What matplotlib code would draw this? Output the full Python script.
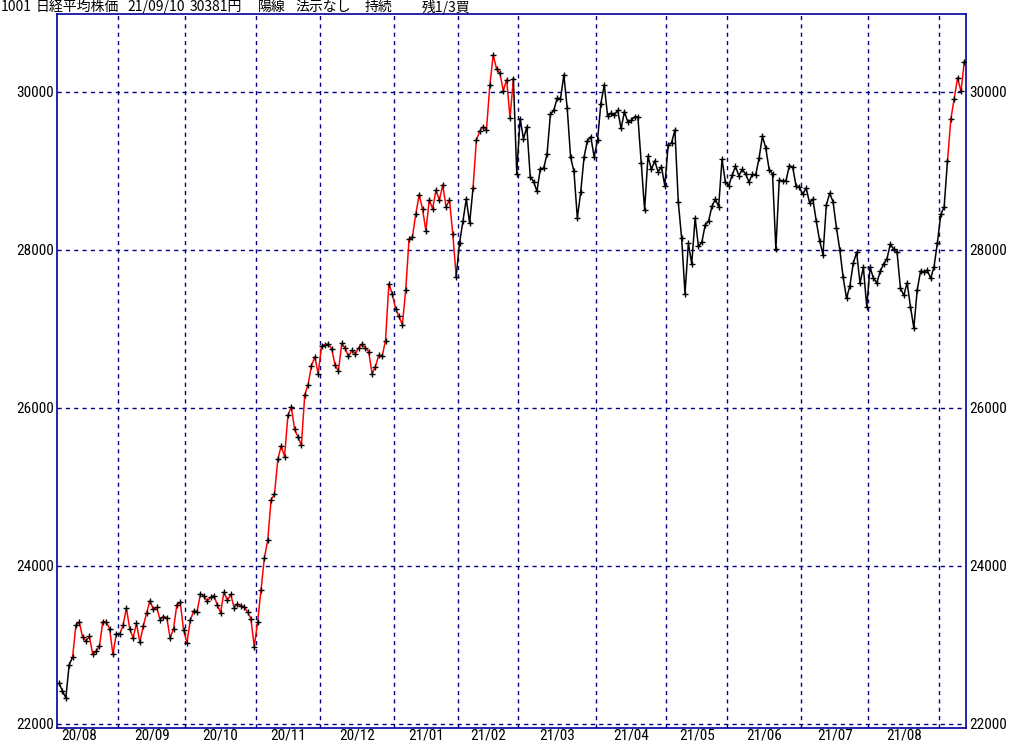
import matplotlib
matplotlib.use("Agg")
import matplotlib.pyplot as plt
from matplotlib import font_manager

# ---------------- data (trading days and closes) ----------------
d_2008 = [5, 6, 7, 11, 12, 13, 14, 17, 18, 19, 20, 21, 24, 25, 26, 27, 28, 31]
c_2008 = [22514, 22418, 22329, 22750, 22843, 23249, 23289, 23096, 23051, 23110,
          22880, 22920, 22985, 23296, 23290, 23208, 22882, 23139]
d_2009 = [1, 2, 3, 4, 7, 8, 9, 10, 11, 14, 15, 16, 17, 18, 23, 24, 25, 28, 29, 30]
c_2009 = [23138, 23247, 23465, 23205, 23089, 23274, 23032, 23235, 23406, 23559,
          23454, 23475, 23319, 23360, 23346, 23087, 23204, 23511, 23539, 23185]
d_2010 = [2, 5, 6, 7, 8, 9, 12, 13, 14, 15, 16, 19, 20, 21, 22, 23, 26, 27, 28, 29, 30]
c_2010 = [23029, 23312, 23433, 23422, 23647, 23619, 23558, 23601, 23626, 23507,
          23410, 23671, 23567, 23639, 23474, 23516, 23494, 23485, 23418, 23331, 22977]
d_2011 = [2, 4, 5, 6, 9, 10, 11, 12, 13, 16, 17, 18, 19, 20, 24, 25, 26, 27, 30]
c_2011 = [23295, 23695, 24105, 24325, 24839, 24905, 25349, 25520, 25385, 25906,
          26014, 25728, 25634, 25527, 26165, 26296, 26537, 26644, 26433]
d_2012 = [1, 2, 3, 4, 7, 8, 9, 10, 11, 14, 15, 16, 17, 18, 21, 22, 23, 24, 25, 28, 29, 30]
c_2012 = [26787, 26800, 26809, 26751, 26547, 26467, 26817, 26756, 26652, 26732,
          26687, 26757, 26806, 26763, 26714, 26436, 26524, 26668, 26656, 26854, 27568, 27444]
d_2101 = [4, 5, 6, 7, 8, 12, 13, 14, 15, 18, 19, 20, 21, 22, 25, 26, 27, 28, 29]
c_2101 = [27258, 27158, 27055, 27490, 28139, 28164, 28456, 28698, 28519, 28242,
          28633, 28523, 28756, 28631, 28822, 28546, 28635, 28197, 27663]
d_2102 = [1, 2, 3, 4, 5, 8, 9, 10, 12, 15, 16, 17, 18, 19, 22, 24, 25, 26]
c_2102 = [28091, 28362, 28646, 28341, 28779, 29388, 29505, 29562, 29520, 30084,
          30467, 30292, 30236, 30017, 30156, 29671, 30168, 28966]
d_2103 = [1, 2, 3, 4, 5, 8, 9, 10, 11, 12, 15, 16, 17, 18, 19, 22, 23, 24, 25, 26, 29, 30, 31]
c_2103 = [29663, 29408, 29559, 28930, 28864, 28743, 29027, 29036, 29211, 29717,
          29766, 29921, 29914, 30216, 29792, 29174, 28995, 28405, 28729, 29176,
          29384, 29432, 29178]
d_2104 = [1, 2, 5, 6, 7, 8, 9, 12, 13, 14, 15, 16, 19, 20, 21, 22, 23, 26, 27, 28, 30]
c_2104 = [29388, 29854, 30089, 29696, 29730, 29708, 29768, 29538, 29751, 29620,
          29642, 29683, 29685, 29100, 28508, 29188, 29020, 29126, 28991, 29053, 28812]
d_2105 = [6, 7, 10, 11, 12, 13, 14, 17, 18, 19, 20, 21, 24, 25, 26, 27, 28, 31]
c_2105 = [29331, 29357, 29518, 28608, 28147, 27448, 28084, 27824, 28406, 28044,
          28098, 28317, 28364, 28553, 28642, 28549, 29149, 28860]
d_2106 = [1, 2, 3, 4, 7, 8, 9, 10, 11, 14, 15, 16, 17, 18, 21, 22, 23, 24, 25, 28, 29, 30]
c_2106 = [28814, 28946, 29058, 28941, 29019, 28963, 28860, 28958, 28948, 29161,
          29441, 29291, 29018, 28964, 28010, 28884, 28874, 28875, 29066, 29048, 28812, 28791]
d_2107 = [1, 2, 5, 6, 7, 8, 9, 12, 13, 14, 15, 16, 19, 20, 21, 26, 27, 28, 29, 30]
c_2107 = [28707, 28783, 28598, 28643, 28366, 28118, 27940, 28569, 28718, 28608,
          28279, 28003, 27652, 27388, 27548, 27833, 27970, 27581, 27782, 27283]
d_2108 = [2, 3, 4, 5, 6, 10, 11, 12, 13, 16, 17, 18, 19, 20, 23, 24, 25, 26, 27, 30, 31]
c_2108 = [27781, 27641, 27584, 27728, 27820, 27888, 28070, 28015, 27977, 27523,
          27424, 27585, 27281, 27013, 27494, 27732, 27724, 27742, 27641, 27789, 28089]
d_2109 = [1, 2, 3, 6, 7, 8, 9, 10]
c_2109 = [28451, 28543, 29128, 29659, 29916, 30181, 30008, 30381]

month_keys = ["2020-08", "2020-09", "2020-10", "2020-11", "2020-12", "2021-01", "2021-02",
              "2021-03", "2021-04", "2021-05", "2021-06", "2021-07", "2021-08", "2021-09"]
month_labels = ["20/08", "20/09", "20/10", "20/11", "20/12", "21/01", "21/02",
                "21/03", "21/04", "21/05", "21/06", "21/07", "21/08", ""]
month_days = [d_2008, d_2009, d_2010, d_2011, d_2012, d_2101, d_2102,
              d_2103, d_2104, d_2105, d_2106, d_2107, d_2108, d_2109]
month_closes = [c_2008, c_2009, c_2010, c_2011, c_2012, c_2101, c_2102,
                c_2103, c_2104, c_2105, c_2106, c_2107, c_2108, c_2109]

# periods drawn in red (signal "holding")
red_spans = [("2020-08-12", "2020-08-31"), ("2020-09-01", "2021-01-29"),
             ("2021-02-05", "2021-02-25"), ("2021-09-03", "2021-09-10")]

y_ticks = [22000, 24000, 26000, 28000, 30000]
header_parts = ["1001", "日経平均株価", "21/09/10", "30381円", "陽線", "法示なし", "持続", "残1/3買"]
header_px = [1, 36, 127, 190, 258, 295, 365, 422]

# ---------------- build series ----------------
dates, closes, month_start_idx = [], [], []
for key, days, cl in zip(month_keys, month_days, month_closes):
    month_start_idx.append(len(dates))
    for d, c in zip(days, cl):
        dates.append(f"{key}-{d:02d}")
        closes.append(c)
n = len(closes)
xs = list(range(n))

def is_red(i):
    a, b = dates[i], dates[i + 1]
    return any(s <= a and b <= e for s, e in red_spans)

# ---------------- fonts ----------------
available = {f.name for f in font_manager.fontManager.ttflist}
narrow = [f for f in ["Liberation Sans Narrow", "Roboto Condensed", "Open Sans Condensed",
                      "Noto Sans Mono CJK JP", "Noto Sans Display"] if f in available]
tick_font = (narrow or []) + ["DejaVu Sans"]
cjk = [f for f in ["Noto Sans CJK JP", "DejaVu Sans"] if f in available] or ["DejaVu Sans"]
tick_kw = dict(family=tick_font, fontsize=11 if narrow else 9, fontstretch="condensed")

# ---------------- figure ----------------
W, H = 1024, 745
fig = plt.figure(figsize=(W / 100, H / 100), dpi=100)
ax_l, ax_r, ax_t, ax_b = 57, 966, 14, 728
ax = fig.add_axes([ax_l / W, 1 - ax_b / H, (ax_r - ax_l) / W, (ax_b - ax_t) / H])

navy = "#000080"
grid_ls = (0, (3, 3))

ax.set_xlim(-0.62, 269.5)
ax.set_ylim(21949, 30987)

for yt in y_ticks:
    ax.axhline(yt, color=navy, lw=1, ls=grid_ls, zorder=1)
for k in month_start_idx[1:]:
    ax.axvline(k - 0.5, color=navy, lw=1, ls=grid_ls, zorder=1)

# price line, coloured by run
i = 0
while i < n - 1:
    col = "red" if is_red(i) else "black"
    j = i
    while j < n - 1 and (("red" if is_red(j) else "black") == col):
        j += 1
    ax.plot(xs[i:j + 1], closes[i:j + 1], color=col, lw=1.1, zorder=2)
    i = j

ax.plot(xs, closes, ls="none", marker="+", ms=4.5, mew=1.0, color="black", zorder=3)

for sp in ax.spines.values():
    sp.set_color("#0000A0")
    sp.set_linewidth(1.2)

ax.set_yticks(y_ticks)
ax.set_yticklabels([str(v) for v in y_ticks], **tick_kw)
ax.tick_params(axis="y", length=0, pad=2, labelleft=True, labelright=True)

# month labels at the middle of each month
label_pos = []
for m in range(len(month_keys)):
    start = month_start_idx[m]
    end = month_start_idx[m + 1] - 1 if m + 1 < len(month_keys) else n - 1
    if m == 0:
        start = start - 5  # first month is cut at the left edge
    label_pos.append((start + end) / 2)
ax.set_xticks(label_pos[:-1])
ax.set_xticklabels(month_labels[:-1], **tick_kw)
ax.tick_params(axis="x", length=0, pad=0)

for txt, px in zip(header_parts, header_px):
    fig.text(px / W, 1 - 7 / H, txt, family=cjk, fontsize=10, va="center", ha="left")

fig.savefig("out.png", dpi=100)
